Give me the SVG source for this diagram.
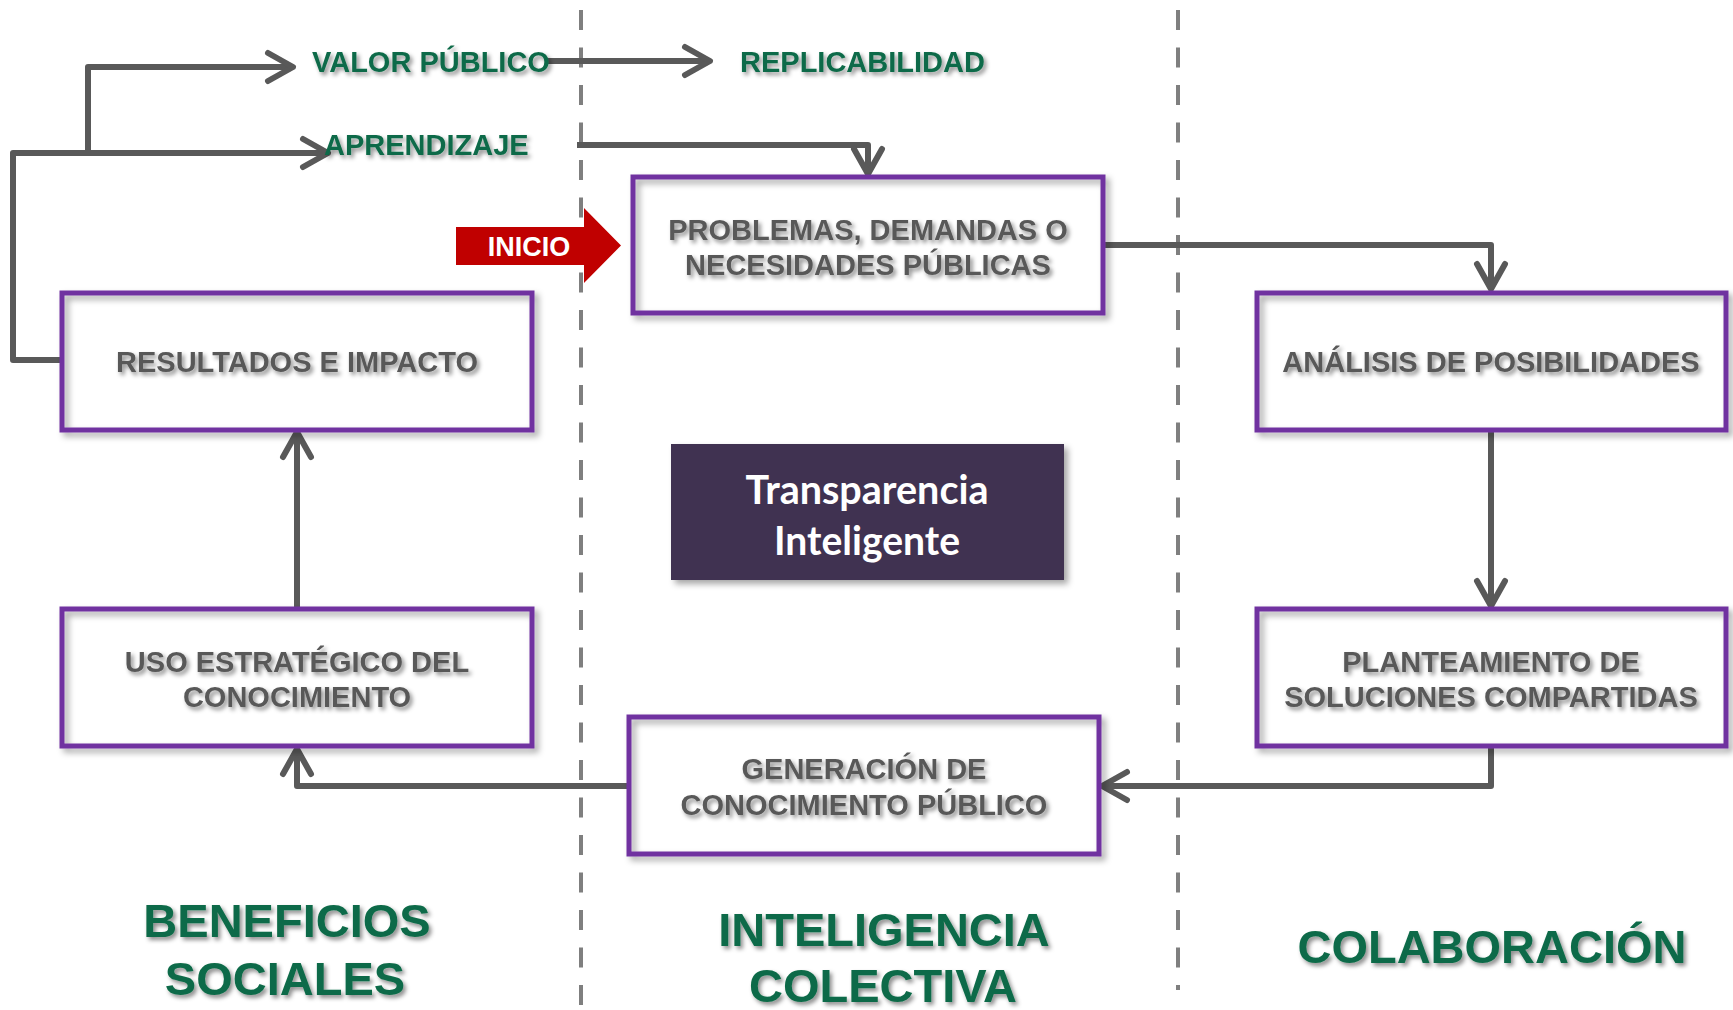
<svg xmlns="http://www.w3.org/2000/svg" width="1733" height="1010" viewBox="0 0 1733 1010">
  <defs>
    <style>
      .box { fill: none; stroke: #7030a0; stroke-width: 5; filter: url(#boxShadow); }
      .ntext { font-family: "Liberation Sans", Arial, sans-serif; font-weight: bold; font-size: 29px; fill: #595959; text-anchor: middle; filter: url(#textShadow); }
      .gtext { font-family: "Liberation Sans", Arial, sans-serif; font-weight: bold; font-size: 29px; fill: #0e6b48; filter: url(#textShadow); }
      .big { font-family: "Liberation Sans", Arial, sans-serif; font-weight: bold; font-size: 47px; fill: #0e6b48; text-anchor: middle; filter: url(#textShadow); }
      .conn { fill: none; stroke: #595959; stroke-width: 6; stroke-linejoin: round; }
      .dash { fill: none; stroke: #7f7f7f; stroke-width: 4; stroke-dasharray: 20 17.5; }
    </style>
    <filter id="boxShadow" x="-10%" y="-20%" width="125%" height="145%">
      <feDropShadow dx="4" dy="4" stdDeviation="3" flood-color="#000" flood-opacity="0.35"/>
    </filter>
    <filter id="textShadow" x="-10%" y="-30%" width="125%" height="170%">
      <feDropShadow dx="2.5" dy="3" stdDeviation="2" flood-color="#000" flood-opacity="0.45"/>
    </filter>
    <marker id="arrow" markerUnits="userSpaceOnUse" viewBox="-30 -18 34 36" refX="0" refY="0" markerWidth="34" markerHeight="36" orient="auto" overflow="visible">
      <path d="M-25 -14 L0 0 L-25 14" fill="none" stroke="#595959" stroke-width="6" stroke-linecap="round" stroke-linejoin="round"/>
    </marker>
  </defs>
  <rect x="0" y="0" width="1733" height="1010" fill="#ffffff"/>

  <g id="dividers">
    <line class="dash" x1="581" y1="10" x2="581" y2="1010"/>
    <line class="dash" x1="1178" y1="10" x2="1178" y2="990"/>
  </g>

  <g id="connectors">
    <path class="conn" d="M62 360 H13 V153 H328" marker-end="url(#arrow)"/>
    <path class="conn" d="M88 153 V67 H293" marker-end="url(#arrow)"/>
    <path class="conn" d="M548 61 H710" marker-end="url(#arrow)"/>
    <path class="conn" d="M577 145 H868 V174" marker-end="url(#arrow)"/>
    <path class="conn" d="M1103 245 H1491 V289" marker-end="url(#arrow)"/>
    <path class="conn" d="M1491 430 V606" marker-end="url(#arrow)"/>
    <path class="conn" d="M1491 746 V786 H1102" marker-end="url(#arrow)"/>
    <path class="conn" d="M629 786 H297 V749" marker-end="url(#arrow)"/>
    <path class="conn" d="M297 609 V432" marker-end="url(#arrow)"/>
  </g>

  <g id="label-valor-publico">
    <text class="gtext" x="312" y="72">VALOR PÚBLICO</text>
  </g>
  <g id="label-replicabilidad">
    <text class="gtext" x="740" y="72">REPLICABILIDAD</text>
  </g>
  <g id="label-aprendizaje">
    <text class="gtext" x="324" y="155">APRENDIZAJE</text>
  </g>

  <g id="node-inicio">
    <polygon points="456,227 584,227 584,208 621,245.5 584,283 584,265 456,265" fill="#c00000"/>
    <text x="529" y="256" font-family="'Liberation Sans', Arial, sans-serif" font-weight="bold" font-size="27" fill="#ffffff" text-anchor="middle">INICIO</text>
  </g>

  <g id="node-problemas">
    <rect class="box" x="633" y="177" width="470" height="136"/>
    <text class="ntext" x="868" y="240">PROBLEMAS, DEMANDAS O</text>
    <text class="ntext" x="868" y="275">NECESIDADES PÚBLICAS</text>
  </g>

  <g id="node-analisis">
    <rect class="box" x="1257" y="293" width="469" height="137"/>
    <text class="ntext" x="1491" y="372">ANÁLISIS DE POSIBILIDADES</text>
  </g>

  <g id="node-resultados">
    <rect class="box" x="62" y="293" width="470" height="137"/>
    <text class="ntext" x="297" y="372">RESULTADOS E IMPACTO</text>
  </g>

  <g id="node-transparencia">
    <rect x="671" y="444" width="393" height="136" fill="#403151" filter="url(#boxShadow)"/>
    <text x="867" y="504" font-family="Lato, 'Open Sans', sans-serif" font-weight="bold" font-size="41" fill="#ffffff" text-anchor="middle" textLength="243" lengthAdjust="spacingAndGlyphs">Transparencia</text>
    <text x="867" y="555" font-family="Lato, 'Open Sans', sans-serif" font-weight="bold" font-size="41" fill="#ffffff" text-anchor="middle" textLength="186" lengthAdjust="spacingAndGlyphs">Inteligente</text>
  </g>

  <g id="node-planteamiento">
    <rect class="box" x="1257" y="609" width="469" height="137"/>
    <text class="ntext" x="1491" y="672">PLANTEAMIENTO DE</text>
    <text class="ntext" x="1491" y="707">SOLUCIONES COMPARTIDAS</text>
  </g>

  <g id="node-uso">
    <rect class="box" x="62" y="609" width="470" height="137"/>
    <text class="ntext" x="297" y="672">USO ESTRATÉGICO DEL</text>
    <text class="ntext" x="297" y="707">CONOCIMIENTO</text>
  </g>

  <g id="node-generacion">
    <rect class="box" x="629" y="717" width="470" height="137"/>
    <text class="ntext" x="864" y="779">GENERACIÓN DE</text>
    <text class="ntext" x="864" y="815">CONOCIMIENTO PÚBLICO</text>
  </g>

  <g id="label-beneficios">
    <text class="big" x="287" y="937">BENEFICIOS</text>
    <text class="big" x="285" y="995">SOCIALES</text>
  </g>
  <g id="label-inteligencia">
    <text class="big" x="884" y="946">INTELIGENCIA</text>
    <text class="big" x="883" y="1002">COLECTIVA</text>
  </g>
  <g id="label-colaboracion">
    <text class="big" x="1492" y="963">COLABORACIÓN</text>
  </g>
</svg>
